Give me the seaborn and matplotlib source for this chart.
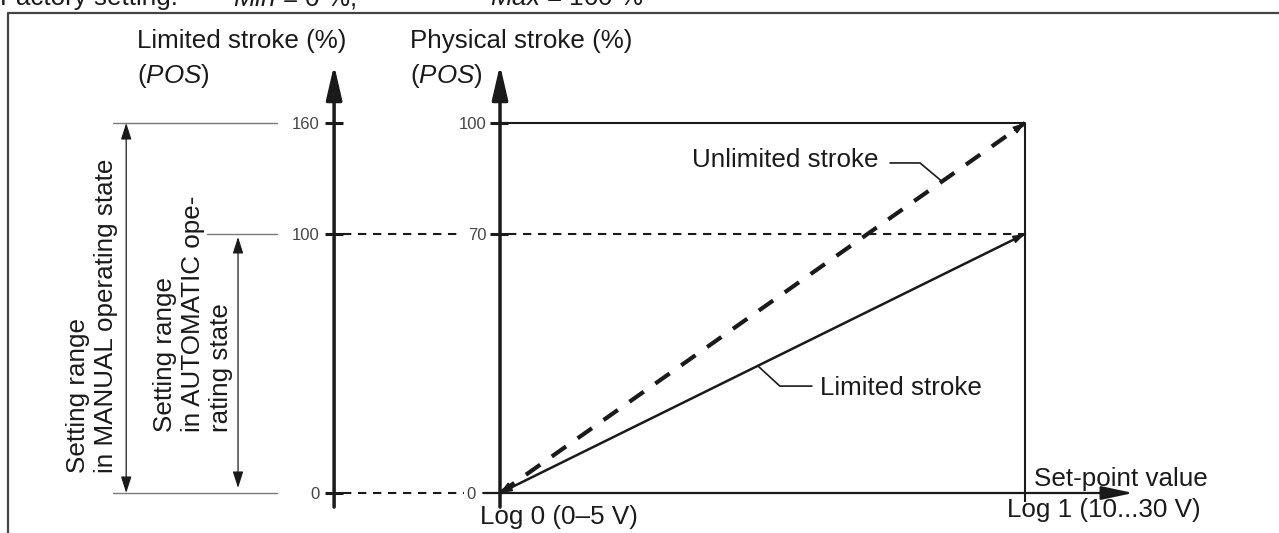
import matplotlib
matplotlib.use("Agg")
import matplotlib.pyplot as plt
import numpy as np
import seaborn as sns

# Set-point value (Log 0 -> Log 1) against stroke in percent
setpoint = [0.0, 1.0]
unlimited_stroke = [0.0, 100.0]
limited_stroke = [0.0, 70.0]

# Physical stroke ticks and the matching limited-stroke scale labels
physical_ticks = [0, 70, 100]
physical_labels = ["0", "70", "100"]
limited_labels = ["0", "100", "160"]

# Setting ranges (in physical-stroke units) shown beside the limited axis
manual_range = [0, 100]
automatic_range = [0, 70]

sns.set_theme(style="white")
plt.rcParams["font.family"] = ["Liberation Sans", "DejaVu Sans"]
plt.rcParams["mathtext.fontset"] = "custom"
plt.rcParams["mathtext.rm"] = "Liberation Sans"
plt.rcParams["mathtext.it"] = "Liberation Sans:italic"

FS = 18.7       # label font size
TFS = 12        # tick label font size
INK = "#1a1a1a"
TICK_INK = "#454545"
GREY = "#7a7a7a"

fig = plt.figure(figsize=(12.79, 5.33), dpi=100)
ax = fig.add_axes([0, 0, 1, 1])
XMIN, XMAX = -0.9524, 1.4838
YMIN, YMAX = -10.81, 133.24
ax.set_xlim(XMIN, XMAX)
ax.set_ylim(YMIN, YMAX)
ax.axis("off")

# ---- outer frame (open to the right and bottom) ----
ax.plot([-0.937, -0.937, XMAX + 0.1], [YMIN - 5, 129.7, 129.7],
        color="#444444", lw=1.6, clip_on=False, solid_capstyle="butt")

# ---- heading ----
HEAD_Y = 131.8
ax.text(XMIN, HEAD_Y, "Factory setting:", fontsize=FS, color=INK,
        va="baseline", ha="left")
ax.text(-0.508, HEAD_Y, r"$\mathit{Min}$ = 0 %,", fontsize=FS, color=INK,
        va="baseline", ha="left")
ax.text(-0.019, HEAD_Y, r"$\mathit{Max}$ = 100 %", fontsize=FS, color=INK,
        va="baseline", ha="left")

x_lo, x_hi = setpoint[0], setpoint[-1]
y_top = unlimited_stroke[-1]
y_lim = limited_stroke[-1]

# ---- limited-stroke axis (left) ----
LEFT_AX = -0.316
ax_bottom, ax_tip = -3.8, 115.7
ax.annotate("", xy=(LEFT_AX, ax_tip), xytext=(LEFT_AX, ax_bottom),
            arrowprops=dict(arrowstyle="-|>,head_length=1.3,head_width=0.3",
                            mutation_scale=16, lw=2.5, color=INK,
                            shrinkA=0, shrinkB=0))
for yv, lab in zip(physical_ticks, limited_labels):
    ax.plot([LEFT_AX - 0.017, LEFT_AX + 0.016], [yv, yv], color=INK, lw=2.2,
            solid_capstyle="butt")
    ax.text(LEFT_AX - 0.027, yv, lab, fontsize=TFS, color=TICK_INK,
            ha="right", va="center_baseline")

ax.text(-0.691, 120.3, "Limited stroke (%)", fontsize=FS, color=INK,
        va="baseline", ha="left")
ax.text(-0.691, 110.8, r"($\mathit{POS}$)", fontsize=FS, color=INK,
        va="baseline", ha="left")

# ---- physical-stroke axis ----
ax.annotate("", xy=(x_lo, ax_tip), xytext=(x_lo, ax_bottom),
            arrowprops=dict(arrowstyle="-|>,head_length=1.3,head_width=0.3",
                            mutation_scale=16, lw=2.5, color=INK,
                            shrinkA=0, shrinkB=0))
for yv, lab in zip(physical_ticks, physical_labels):
    if yv > 0:
        ax.plot([x_lo - 0.019, x_lo + 0.015], [yv, yv], color=INK, lw=2.2,
                solid_capstyle="butt")
        ax.text(x_lo - 0.025, yv, lab, fontsize=TFS, color=TICK_INK,
                ha="right", va="center_baseline")
    else:
        ax.text(x_lo - 0.046, yv, lab, fontsize=TFS, color=TICK_INK,
                ha="right", va="center_baseline")

ax.text(-0.171, 120.3, "Physical stroke (%)", fontsize=FS, color=INK,
        va="baseline", ha="left")
ax.text(-0.171, 110.8, r"($\mathit{POS}$)", fontsize=FS, color=INK,
        va="baseline", ha="left")

# ---- set-point axis ----
ax.annotate("", xy=(1.206, 0), xytext=(-0.032, 0),
            arrowprops=dict(arrowstyle="-|>,head_length=1.4,head_width=0.3",
                            mutation_scale=14, lw=1.6, color=INK,
                            shrinkA=0, shrinkB=0))
ax.text(1.017, 1.9, "Set-point value", fontsize=FS, color=INK,
        va="baseline", ha="left")
ax.text(-0.038, -8.4, "Log 0 (0\u20135 V)", fontsize=FS, color=INK,
        va="baseline", ha="left")
ax.text(0.966, -6.5, "Log 1 (10...30 V)", fontsize=FS, color=INK,
        va="baseline", ha="left")

# ---- box of the physical stroke range ----
ax.plot([x_lo, x_hi], [y_top, y_top], color=INK, lw=1.5)
ax.plot([x_hi, x_hi], [-2.43, y_top], color=INK, lw=1.5,
        solid_capstyle="butt")

# ---- dashed guides ----
guide = dict(color=INK, lw=1.5, linestyle=(0, (4.0, 3.2)))
ax.plot([LEFT_AX + 0.017, -0.076], [y_lim, y_lim], **guide)
ax.plot([x_lo + 0.015, x_hi], [y_lim, y_lim], **guide)
ax.plot([LEFT_AX + 0.017, -0.068], [0, 0], **guide)

# ---- stroke curves ----
sns.lineplot(x=setpoint, y=unlimited_stroke, ax=ax, color=INK, lw=3.0,
             linestyle=(0, (4.2, 3.4)))
sns.lineplot(x=setpoint, y=limited_stroke, ax=ax, color=INK, lw=1.8)

head = dict(arrowstyle="-|>,head_length=0.9,head_width=0.3",
            mutation_scale=8, lw=1.0, color=INK, shrinkA=0, shrinkB=0)
for ys in (unlimited_stroke, limited_stroke):
    slope = (ys[-1] - ys[0]) / (setpoint[-1] - setpoint[0])
    d = 0.02
    ax.annotate("", xy=(setpoint[-1], ys[-1]),
                xytext=(setpoint[-1] - d, ys[-1] - d * slope), arrowprops=head)
    ax.annotate("", xy=(setpoint[0], ys[0]),
                xytext=(setpoint[0] + d, ys[0] + d * slope), arrowprops=head)

# ---- curve labels with leader lines ----
leader = dict(color=INK, lw=1.2)
xu = 0.842
ax.plot([0.743, 0.8, xu], [89.2, 89.2, np.interp(xu, setpoint, unlimited_stroke)],
        **leader)
ax.text(0.72, 88.1, "Unlimited stroke", fontsize=FS, color=INK,
        ha="right", va="baseline")

xl = 0.491
ax.plot([0.594, 0.533, xl], [28.9, 28.9, np.interp(xl, setpoint, limited_stroke)],
        **leader)
ax.text(0.61, 26.5, "Limited stroke", fontsize=FS, color=INK,
        ha="left", va="baseline")

# ---- setting ranges on the left ----
ax.plot([-0.737, -0.425], [manual_range[1], manual_range[1]], color=GREY, lw=1.0)
ax.plot([-0.558, -0.425], [automatic_range[1], automatic_range[1]], color=GREY, lw=1.0)
ax.plot([-0.737, -0.425], [manual_range[0], manual_range[0]], color=GREY, lw=1.0)

dbl = dict(arrowstyle="<|-|>,head_length=1.0,head_width=0.32",
           mutation_scale=10, lw=0.9, color=INK, shrinkA=0, shrinkB=0)
ax.annotate("", xy=(-0.712, manual_range[1]), xytext=(-0.712, manual_range[0]),
            arrowprops=dbl)
ax.annotate("", xy=(-0.499, automatic_range[1] - 0.8),
            xytext=(-0.499, automatic_range[0] + 1.35), arrowprops=dbl)

ax.text(-0.777, 5.4, "Setting range\nin MANUAL operating state", fontsize=FS,
        color=INK, rotation=90, ha="center", va="bottom",
        multialignment="left", linespacing=1.2)
ax.text(-0.585, 16.5, "Setting range\nin AUTOMATIC ope-\nrating state",
        fontsize=FS, color=INK, rotation=90, ha="center", va="bottom",
        multialignment="left", linespacing=1.2)

fig.savefig("out.png", dpi=100, facecolor="white")
